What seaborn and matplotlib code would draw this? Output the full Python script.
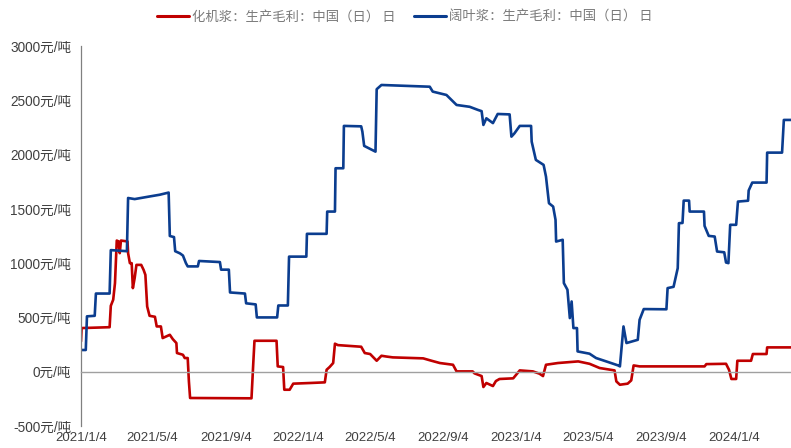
import pandas as pd
import numpy as np
import matplotlib
matplotlib.use("Agg")
import matplotlib.pyplot as plt
import matplotlib.dates as mdates
import seaborn as sns
from matplotlib.lines import Line2D

# ---------------- data ----------------
red_name = "化机浆：生产毛利：中国（日） 日"
blue_name = "阔叶浆：生产毛利：中国（日） 日"

blue_dates = [
    "2021-01-04", "2021-01-12", "2021-01-14", "2021-01-27", "2021-01-29", "2021-02-21",
    "2021-02-23", "2021-03-22", "2021-03-24", "2021-04-04", "2021-04-30", "2021-05-16",
    "2021-05-31", "2021-06-02", "2021-06-09", "2021-06-11", "2021-06-19", "2021-06-24",
    "2021-06-29", "2021-07-02", "2021-07-19", "2021-07-21", "2021-08-25", "2021-08-27",
    "2021-09-09", "2021-09-11", "2021-10-06", "2021-10-08", "2021-10-24", "2021-10-26",
    "2021-11-29", "2021-12-01", "2021-12-17", "2021-12-19", "2022-01-17", "2022-01-18",
    "2022-02-20", "2022-02-21", "2022-03-06", "2022-03-07", "2022-03-20", "2022-03-21",
    "2022-04-19", "2022-04-21", "2022-04-24", "2022-05-13", "2022-05-15", "2022-05-23",
    "2022-08-12", "2022-08-17", "2022-09-09", "2022-09-26", "2022-10-18", "2022-11-01",
    "2022-11-07", "2022-11-10", "2022-11-15", "2022-11-26", "2022-12-04", "2022-12-24",
    "2022-12-27", "2023-01-01", "2023-01-10", "2023-01-29", "2023-01-30", "2023-02-06",
    "2023-02-19", "2023-02-23", "2023-02-28", "2023-03-07", "2023-03-11", "2023-03-12",
    "2023-03-23", "2023-03-25", "2023-03-31", "2023-04-04", "2023-04-07", "2023-04-10",
    "2023-04-16", "2023-04-17", "2023-05-07", "2023-05-18", "2023-06-04", "2023-06-24",
    "2023-06-27", "2023-07-03", "2023-07-08", "2023-07-27", "2023-07-30", "2023-08-06",
    "2023-09-13", "2023-09-15", "2023-09-25", "2023-10-02", "2023-10-04", "2023-10-10",
    "2023-10-12", "2023-10-21", "2023-10-22", "2023-11-15", "2023-11-16", "2023-11-23",
    "2023-12-03", "2023-12-07", "2023-12-19", "2023-12-22", "2023-12-26", "2023-12-29",
    "2024-01-08", "2024-01-11", "2024-01-28", "2024-01-29", "2024-02-04", "2024-02-28",
    "2024-02-29", "2024-03-25", "2024-03-28", "2024-04-09",
]
blue_values = [
    200, 200, 510, 515, 720, 720,
    1120, 1110, 1600, 1590, 1615, 1630,
    1650, 1250, 1240, 1110, 1090, 1070,
    1000, 970, 970, 1020, 1010, 940,
    940, 730, 720, 630, 620, 500,
    500, 610, 610, 1060, 1060, 1270,
    1270, 1475, 1475, 1874, 1874, 2264,
    2260, 2211, 2080, 2027, 2602, 2641,
    2625, 2580, 2549, 2457, 2440, 2411,
    2400, 2273, 2334, 2290, 2374, 2370,
    2165, 2195, 2264, 2264, 2119, 1951,
    1905, 1797, 1552, 1521, 1399, 1199,
    1215, 816, 755, 494, 647, 402,
    402, 187, 166, 126, 95, 58,
    49, 417, 264, 294, 478, 577,
    575, 770, 782, 954, 1368, 1370,
    1576, 1576, 1475, 1475, 1343, 1251,
    1245, 1107, 1100, 1006, 1000, 1353,
    1353, 1567, 1575, 1669, 1742, 1742,
    2018, 2018, 2319, 2319,
]

red_dates = [
    "2021-01-04", "2021-01-05", "2021-02-21", "2021-02-23", "2021-02-27", "2021-03-02",
    "2021-03-05", "2021-03-08", "2021-03-10", "2021-03-12", "2021-03-23", "2021-03-24",
    "2021-03-27", "2021-03-30", "2021-04-01", "2021-04-04", "2021-04-07", "2021-04-15",
    "2021-04-19", "2021-04-22", "2021-04-25", "2021-04-29", "2021-05-08", "2021-05-11",
    "2021-05-18", "2021-05-21", "2021-06-02", "2021-06-07", "2021-06-13", "2021-06-14",
    "2021-06-24", "2021-06-27", "2021-07-02", "2021-07-04", "2021-07-06", "2021-10-17",
    "2021-10-20", "2021-10-22", "2021-11-28", "2021-11-30", "2021-12-09", "2021-12-11",
    "2021-12-20", "2021-12-26", "2022-01-23", "2022-02-17", "2022-02-20", "2022-02-25",
    "2022-03-03", "2022-03-06", "2022-03-11", "2022-04-19", "2022-04-25", "2022-05-04",
    "2022-05-15", "2022-05-23", "2022-05-31", "2022-06-11", "2022-08-01", "2022-08-15",
    "2022-08-29", "2022-09-20", "2022-09-26", "2022-10-23", "2022-10-26", "2022-11-07",
    "2022-11-10", "2022-11-15", "2022-11-26", "2022-12-01", "2022-12-07", "2022-12-30",
    "2023-01-10", "2023-02-01", "2023-02-12", "2023-02-18", "2023-02-23", "2023-03-15",
    "2023-04-18", "2023-05-07", "2023-05-24", "2023-06-18", "2023-06-21", "2023-06-27",
    "2023-07-10", "2023-07-16", "2023-07-20", "2023-07-30", "2023-11-16", "2023-11-19",
    "2023-12-22", "2023-12-27", "2023-12-31", "2024-01-08", "2024-01-10", "2024-02-02",
    "2024-02-05", "2024-02-28", "2024-02-29", "2024-04-09",
]
red_values = [
    279, 402, 410, 607, 663, 816,
    1208, 1200, 1092, 1208, 1200, 1092,
    1000, 1000, 770, 862, 984, 984,
    938, 892, 601, 515, 506, 417,
    417, 310, 340, 300, 264, 172,
    156, 126, 126, -89, -242, -245,
    80, 285, 285, 49, 43, -166,
    -166, -110, -104, -98, 18, 43,
    80, 258, 245, 230, 172, 163,
    101, 147, 140, 132, 123, 101,
    80, 64, 3, 3, -15, -40,
    -141, -104, -132, -86, -67, -61,
    12, 3, -18, -40, 64, 80,
    95, 73, 34, 12, -89, -120,
    -110, -80, 58, 49, 49, 70,
    73, 18, -67, -67, 101, 101,
    163, 163, 224, 224,
]

x_tick_labels = ["2021/1/4", "2021/5/4", "2021/9/4", "2022/1/4", "2022/5/4",
                 "2022/9/4", "2023/1/4", "2023/5/4", "2023/9/4", "2024/1/4"]
y_ticks = [-500, 0, 500, 1000, 1500, 2000, 2500, 3000]
y_unit = "元/吨"

# ---------------- build frame ----------------
df = pd.concat([
    pd.DataFrame({"date": pd.to_datetime(red_dates), "value": red_values, "series": red_name}),
    pd.DataFrame({"date": pd.to_datetime(blue_dates), "value": blue_values, "series": blue_name}),
], ignore_index=True)

sns.set_style("white")
plt.rcParams["font.family"] = ["Liberation Sans", "Noto Sans CJK SC", "DejaVu Sans"]

fig = plt.figure(figsize=(7.91, 4.48), dpi=100)
ax = fig.add_axes([81 / 791, 22 / 448, 1 - 81 / 791, (426 - 46) / 448])

palette = {red_name: "#C00000", blue_name: "#0B3D8F"}
sns.lineplot(data=df, x="date", y="value", hue="series", palette=palette,
             estimator=None, sort=False, linewidth=1.9, ax=ax, legend=False)

x_ticks = pd.to_datetime(x_tick_labels, format="%Y/%m/%d")
ax.set_xlim(pd.Timestamp("2021-01-04"), pd.Timestamp("2024-04-09"))
ax.set_ylim(-500, 3000)

ax.set_yticks(y_ticks)
ax.set_yticklabels([f"{v}{y_unit}" for v in y_ticks])
ax.tick_params(axis="y", direction="out", length=4, width=0.8, color="#808080",
               labelsize=9.8, labelcolor="#404040", pad=3)
ax.set_xlabel("")
ax.set_ylabel("")

for s in ["top", "right"]:
    ax.spines[s].set_visible(False)
ax.spines["left"].set_color("#808080")
ax.spines["left"].set_linewidth(0.9)
ax.spines["bottom"].set_position(("data", 0))
ax.spines["bottom"].set_color("#A0A0A0")
ax.spines["bottom"].set_linewidth(1.0)
ax.set_xticks(x_ticks)
ax.tick_params(axis="x", direction="in", length=4, width=0.8, color="#A0A0A0",
               labelbottom=False)

sec = ax.secondary_xaxis(0)
sec.set_xticks(x_ticks)
sec.set_xticklabels(x_tick_labels)
sec.tick_params(axis="x", length=0, labelsize=9.5, labelcolor="#404040", pad=4)
sec.spines["bottom"].set_visible(False)

handles = [Line2D([], [], color=palette[red_name], linewidth=2.2),
           Line2D([], [], color=palette[blue_name], linewidth=2.2)]
leg = fig.legend(handles, [red_name, blue_name], loc="center", ncol=2,
                 bbox_to_anchor=(405 / 791, 1 - 17 / 448), frameon=False,
                 handlelength=2.4, handletextpad=0.2, columnspacing=1.4,
                 prop={"family": ["Noto Sans CJK SC"], "size": 9.6})
for t in leg.get_texts():
    t.set_color("#7A7A7A")

fig.savefig("out.png", dpi=100)
